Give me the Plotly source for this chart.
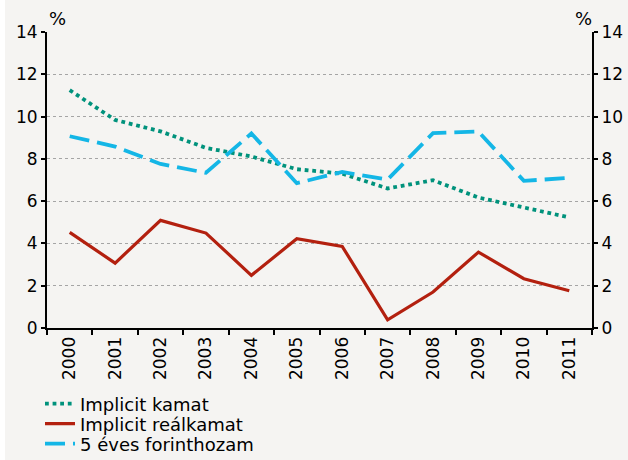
import plotly.graph_objects as go

years = ["2000", "2001", "2002", "2003", "2004", "2005", "2006", "2007", "2008", "2009", "2010", "2011"]
implicit_kamat = [11.25, 9.84, 9.3, 8.52, 8.11, 7.51, 7.3, 6.6, 6.99, 6.17, 5.7, 5.23]
implicit_realkamat = [4.52, 3.07, 5.09, 4.49, 2.49, 4.22, 3.86, 0.39, 1.70, 3.59, 2.33, 1.76]
forinthozam_5 = [9.07, 8.58, 7.76, 7.34, 9.2, 6.85, 7.38, 7.02, 9.22, 9.29, 6.96, 7.10]
y_ticks = [0, 2, 4, 6, 8, 10, 12, 14]

FONT = "DejaVu Sans, sans-serif"
BG = "#f5f4f2"

fig = go.Figure()
fig.add_trace(go.Scatter(x=years, y=implicit_kamat, name="Implicit kamat", mode="lines",
                         line=dict(color="#00927c", width=3.8, dash="dot"), legend="legend"))
fig.add_trace(go.Scatter(x=years, y=implicit_realkamat, name="Implicit reálkamat", mode="lines",
                         line=dict(color="#b3200f", width=3.2), legend="legend2"))
fig.add_trace(go.Scatter(x=years, y=forinthozam_5, name="5 éves forinthozam", mode="lines",
                         line=dict(color="#14b6e6", width=3.8, dash="20px,8px"), yaxis="y2",
                         legend="legend3"))

axis_common = dict(range=[0, 14], tickvals=y_ticks, showline=True, linecolor="black", linewidth=2,
                   ticks="outside", ticklen=4, tickwidth=2, tickcolor="black",
                   tickfont=dict(size=17, color="black", family=FONT), zeroline=False, fixedrange=True)

def leg(yc):
    return dict(xref="container", yref="container", x=40/628, y=1 - yc/460, xanchor="left",
                yanchor="middle", orientation="v", font=dict(size=18, color="black", family=FONT),
                bgcolor="rgba(0,0,0,0)", tracegroupgap=0, itemwidth=30)

fig.update_layout(
    width=628, height=460,
    paper_bgcolor=BG, plot_bgcolor=BG,
    margin=dict(l=47, r=36, t=32, b=132, autoexpand=False),
    font=dict(family=FONT, color="black"),
    xaxis=dict(type="category", range=[-0.5, 11.5], showline=True, linecolor="black", linewidth=2,
               ticks="outside", tickson="boundaries", ticklen=5, tickwidth=2, tickcolor="black",
               tickangle=-90, tickfont=dict(size=17, color="black", family=FONT), showgrid=False),
    yaxis=dict(**axis_common, showgrid=True, gridcolor="#a5a5a5", gridwidth=1, griddash="dot"),
    yaxis2=dict(**axis_common, overlaying="y", side="right", showgrid=False),
    showlegend=True,
    legend=leg(404), legend2=leg(424), legend3=leg(444),
    annotations=[
        dict(text="%", x=0.0, y=1.0, xref="paper", yref="paper", xanchor="left", yanchor="bottom",
             xshift=0, yshift=1, showarrow=False, font=dict(size=18, color="black", family=FONT)),
        dict(text="%", x=1.0, y=1.0, xref="paper", yref="paper", xanchor="right", yanchor="bottom",
             xshift=2, yshift=1, showarrow=False, font=dict(size=18, color="black", family=FONT)),
    ],
    shapes=[dict(type="rect", xref="paper", yref="paper", x0=-47/545, x1=-42/545, y0=-132/296, y1=1+32/296,
                 fillcolor="white", line=dict(width=0), layer="below")],
)

fig.write_html("out.html", config={"displayModeBar": False},
               post_script="document.body.style.margin='0';")
